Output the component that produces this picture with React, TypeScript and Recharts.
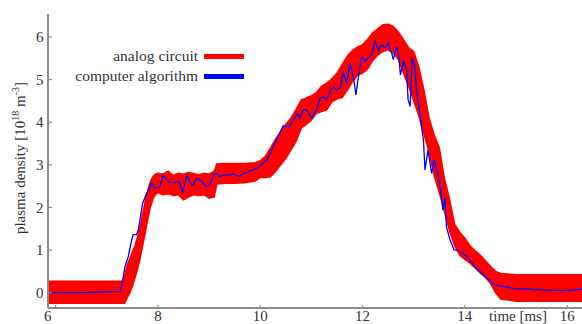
import React from "react";
import { ComposedChart, Area, Line, XAxis, YAxis, Legend, Label } from "recharts";

// analog circuit: noisy band, read as lower / upper edge per time sample
const analogTime = [
  5.85, 7.3, 7.35, 7.4, 7.45, 7.5, 7.55, 7.6, 7.65, 7.7, 7.75, 7.8, 7.85, 7.9, 7.95, 8.0,
  8.1, 8.2, 8.3, 8.4, 8.5, 8.6, 8.7, 8.8, 8.9, 9.0, 9.1, 9.15, 9.3, 9.5, 9.7, 9.9,
  10.0, 10.1, 10.2, 10.3, 10.4, 10.5, 10.6, 10.7, 10.8, 10.9, 11.0, 11.1, 11.2, 11.3, 11.4, 11.5,
  11.6, 11.7, 11.8, 11.9, 12.0, 12.1, 12.2, 12.3, 12.4, 12.5, 12.6, 12.7, 12.8, 12.9, 13.0, 13.1,
  13.2, 13.3, 13.4, 13.5, 13.6, 13.7, 13.8, 13.9, 14.0, 14.1, 14.2, 14.3, 14.4, 14.5, 14.6, 14.7,
  15.0, 16.29,
];
const analogLow = [
  -0.25, -0.25, -0.25, -0.12, 0.0, 0.15, 0.35, 0.55, 0.8, 1.1, 1.4, 1.72, 2.0, 2.2, 2.3, 2.35,
  2.3, 2.32, 2.28, 2.3, 2.18, 2.25, 2.3, 2.28, 2.3, 2.22, 2.25, 2.55, 2.57, 2.57, 2.58, 2.62,
  2.7, 2.7, 2.72, 2.85, 3.0, 3.15, 3.35, 3.55, 3.86, 3.95, 4.05, 4.21, 4.25, 4.29, 4.48, 4.55,
  4.58, 4.75, 4.95, 5.1, 5.15, 5.25, 5.45, 5.58, 5.66, 5.7, 5.62, 5.48, 5.15, 4.85, 4.5, 4.15,
  3.72, 3.3, 2.75, 2.35, 1.9, 1.45, 1.1, 0.88, 0.78, 0.69, 0.58, 0.46, 0.36, 0.22, 0.0, -0.15,
  -0.2, -0.2,
];
const analogHigh = [
  0.27, 0.27, 0.4, 0.65, 0.8, 0.95, 1.1, 1.3, 1.55, 1.85, 2.15, 2.4, 2.6, 2.72, 2.78, 2.8,
  2.78, 2.85, 2.75, 2.8, 2.78, 2.82, 2.8, 2.76, 2.8, 2.78, 2.85, 3.02, 3.03, 3.03, 3.03, 3.05,
  3.1, 3.2, 3.4, 3.6, 3.78, 3.95, 4.1, 4.3, 4.52, 4.57, 4.62, 4.7, 4.85, 4.92, 5.02, 5.15,
  5.35, 5.55, 5.68, 5.76, 5.82, 5.95, 6.1, 6.2, 6.29, 6.3, 6.25, 6.12, 5.94, 5.75, 5.66, 5.3,
  4.75, 4.1, 3.7, 3.4, 2.68, 2.2, 1.6, 1.42, 1.28, 1.1, 0.98, 0.88, 0.75, 0.62, 0.5, 0.45,
  0.42, 0.42,
];

// computer algorithm
const algoTime = [
  5.85, 6.5, 7.0, 7.26, 7.29, 7.355, 7.42, 7.486, 7.517, 7.58, 7.615, 7.648, 7.7, 7.78, 7.877, 7.94,
  8.04, 8.1, 8.2, 8.27, 8.4, 8.43, 8.48, 8.53, 8.57, 8.63, 8.69, 8.76, 8.82, 8.89, 8.95, 9.02,
  9.08, 9.15, 9.21, 9.28, 9.41, 9.47, 9.57, 9.67, 9.77, 9.86, 9.99, 10.13, 10.22, 10.3, 10.38, 10.45,
  10.55, 10.65, 10.72, 10.78, 10.84, 10.91, 11.005, 11.1, 11.17, 11.23, 11.3, 11.36, 11.43, 11.49, 11.56, 11.62,
  11.69, 11.75, 11.82, 11.87, 11.92, 11.98, 12.05, 12.11, 12.18, 12.24, 12.31, 12.37, 12.44, 12.5, 12.57, 12.6,
  12.67, 12.71, 12.74, 12.8, 12.86, 12.89, 12.93, 12.97, 13.02, 13.06, 13.12, 13.15, 13.19, 13.22, 13.28, 13.35,
  13.4, 13.45, 13.51, 13.57, 13.61, 13.64, 13.71, 13.79, 13.87, 13.94, 14.04, 14.1, 14.16, 14.26, 14.43, 14.59,
  14.95, 15.27, 15.6, 15.92, 16.29,
];
const algoDensity = [
  0.0, 0.0, 0.02, 0.03, 0.15, 0.61, 0.85, 1.24, 1.36, 1.36, 1.47, 1.71, 2.1, 2.33, 2.57, 2.45,
  2.49, 2.76, 2.61, 2.57, 2.61, 2.57, 2.37, 2.61, 2.76, 2.57, 2.53, 2.69, 2.65, 2.57, 2.49, 2.53,
  2.76, 2.8, 2.72, 2.76, 2.76, 2.79, 2.72, 2.8, 2.84, 2.88, 2.96, 3.12, 3.35, 3.55, 3.75, 3.92,
  3.88, 4.05, 4.2, 4.1, 4.29, 4.29, 4.1, 4.29, 4.57, 4.6, 4.53, 4.72, 4.84, 4.76, 4.8, 5.15,
  4.92, 5.39, 5.07, 4.64, 5.07, 5.54, 5.43, 5.51, 5.58, 5.9, 5.7, 5.82, 5.74, 5.86, 5.62, 5.47,
  5.78, 5.51, 5.11, 5.43, 5.23, 4.53, 4.37, 5.51, 5.31, 4.69, 4.21, 3.9, 3.59, 2.88, 3.35, 2.8,
  3.12, 2.88, 2.57, 1.94, 2.22, 1.55, 1.24, 1.0, 1.0, 0.93, 0.85, 0.77, 0.65, 0.53, 0.34, 0.18,
  0.1, 0.08, 0.06, 0.05, 0.08,
];

const xTicks = [6, 8, 10, 12, 14, 16];
const yTicks = [0, 1, 2, 3, 4, 5, 6];
const seriesNames = ["analog circuit", "computer algorithm"];
const seriesColors = ["#ff0000", "#0000ff"];

const analogData = analogTime.map((t, i) => ({ t, band: [analogLow[i], analogHigh[i]] }));
const algoData = algoTime.map((t, i) => ({ t, density: algoDensity[i] }));

const AXIS = "#8c8c8c";
const TEXT = "#333333";
const FONT = "Liberation Serif, DejaVu Serif, serif";
const textStyle = { fontFamily: FONT, fontSize: 15 };

function BottomTick({ x, y, payload }: any) {
  // the first label sits against the left frame in the original
  const first = payload.value === xTicks[0];
  return (
    <g>
      <line x1={x} x2={x} y1={y} y2={y - 3} stroke={AXIS} strokeWidth={1.2} />
      <text x={first ? x - 8 : x} y={y + 12.5} textAnchor="middle" fill={TEXT} style={textStyle}>
        {payload.value}
      </text>
    </g>
  );
}

function TopTick({ x, y }: any) {
  return <line x1={x} x2={x} y1={y} y2={y + 3} stroke={AXIS} strokeWidth={1.2} />;
}

function LeftTick({ x, y, payload }: any) {
  return (
    <g>
      <line x1={x} x2={x + 4} y1={y} y2={y} stroke={AXIS} strokeWidth={1.2} />
      <text x={x - 4.5} y={y} dy="0.35em" textAnchor="end" fill={TEXT} style={textStyle}>
        {payload.value}
      </text>
    </g>
  );
}

function YTitle() {
  const cx = 20;
  const cy = 158;
  return (
    <text
      x={cx}
      y={cy}
      transform={`rotate(-90 ${cx} ${cy})`}
      textAnchor="middle"
      dy="0.35em"
      fill={TEXT}
      style={textStyle}
    >
      plasma density [10
      <tspan dy={-6} fontSize={10}>18</tspan>
      <tspan dy={6}> m</tspan>
      <tspan dy={-6} fontSize={10}>-3</tspan>
      <tspan dy={6}>]</tspan>
    </text>
  );
}

function XTitle() {
  return (
    <text x={518} y={320.5} textAnchor="middle" fill={TEXT} style={textStyle}>
      time [ms]
    </text>
  );
}

function LegendBox() {
  return (
    <div style={{ fontFamily: FONT, fontSize: 15.5, color: TEXT }}>
      {seriesNames.map((name, i) => (
        <div
          key={name}
          style={{ display: "flex", justifyContent: "flex-end", alignItems: "center", height: 20 }}
        >
          <span>{name}</span>
          <span
            style={{ display: "inline-block", width: 40, height: 5, background: seriesColors[i], marginLeft: 6 }}
          />
        </div>
      ))}
    </div>
  );
}

export default function App() {
  return (
    <div style={{ position: "absolute", left: 0, top: 0, width: 582, height: 324, background: "#fff" }}>
      <ComposedChart width={582} height={324} margin={{ top: 14, right: 0, bottom: 0, left: 0 }}>
        <XAxis
          dataKey="t"
          type="number"
          domain={[5.85, 16.29]}
          allowDataOverflow
          ticks={xTicks}
          height={16}
          tickSize={0}
          tickMargin={0}
          tickLine={false}
          axisLine={{ stroke: AXIS, strokeWidth: 2 }}
          tick={<BottomTick />}
        >
          <Label content={<XTitle />} />
        </XAxis>
        <XAxis
          xAxisId="top"
          orientation="top"
          dataKey="t"
          type="number"
          domain={[5.85, 16.29]}
          allowDataOverflow
          ticks={xTicks}
          height={0}
          tickSize={0}
          tickMargin={0}
          tickLine={false}
          axisLine={{ stroke: AXIS, strokeWidth: 1.5 }}
          tick={<TopTick />}
        />
        <YAxis
          type="number"
          domain={[-0.36, 6.54]}
          allowDataOverflow
          ticks={yTicks}
          width={48}
          tickSize={0}
          tickMargin={0}
          tickLine={false}
          axisLine={{ stroke: AXIS, strokeWidth: 2 }}
          tick={<LeftTick />}
        >
          <Label content={<YTitle />} />
        </YAxis>
        <Legend
          layout="horizontal"
          verticalAlign="middle"
          content={<LegendBox />}
          wrapperStyle={{ position: "absolute", left: 60, top: 46, width: 184 }}
        />
        <Area
          data={analogData}
          dataKey="band"
          name={seriesNames[0]}
          type="linear"
          stroke={seriesColors[0]}
          strokeWidth={1.5}
          fill={seriesColors[0]}
          fillOpacity={1}
          isAnimationActive={false}
        />
        <Line
          data={algoData}
          dataKey="density"
          name={seriesNames[1]}
          type="linear"
          stroke={seriesColors[1]}
          strokeWidth={1.3}
          dot={false}
          isAnimationActive={false}
        />
      </ComposedChart>
    </div>
  );
}
